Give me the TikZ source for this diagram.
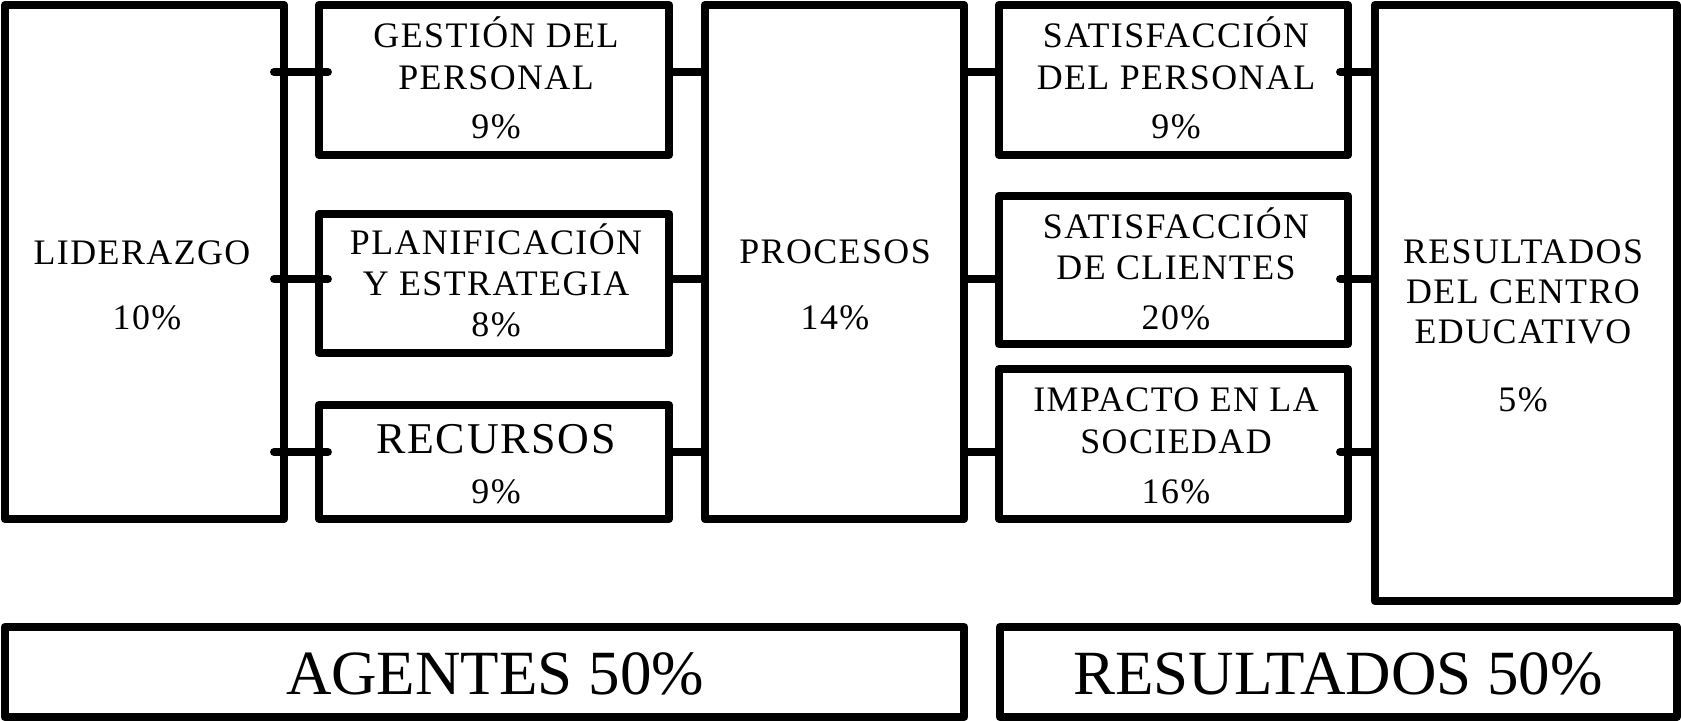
\documentclass[tikz,border=0pt]{standalone}
\usepackage{fontspec}
\setmainfont{Liberation Serif}
\newfontfamily\spacedserif{Liberation Serif}[LetterSpace=4]
\begin{document}
\begin{tikzpicture}[x=0.01cm,y=-0.01cm,
  box/.style={draw=black, line width=2.3pt, line join=round, inner sep=0pt, outer sep=0pt},
  stub/.style={draw=black, line width=2.3pt},
  txt/.style={anchor=base, inner sep=0pt, font=\spacedserif\fontsize{10.2}{12}\selectfont},
  bigtxt/.style={anchor=base, inner sep=0pt, font=\spacedserif\fontsize{12.5}{15}\selectfont},
  hugetxt/.style={anchor=base, inner sep=0pt, font=\fontsize{17.9}{21}\selectfont}]
\useasboundingbox (0,0) rectangle (1681,720);
\fill[white] (0,0) rectangle (1681,720);

% boxes
\node[box, minimum width=2.79cm, minimum height=5.14cm] (lid) at (144.5,262) {};
\node[box, minimum width=3.50cm, minimum height=1.50cm] (gest) at (494,80) {};
\node[box, minimum width=3.50cm, minimum height=1.39cm] (plan) at (494,283.5) {};
\node[box, minimum width=3.50cm, minimum height=1.14cm] (rec) at (494,462) {};
\node[box, minimum width=2.59cm, minimum height=5.14cm] (proc) at (834.5,262) {};
\node[box, minimum width=3.49cm, minimum height=1.50cm] (sp) at (1173.5,80) {};
\node[box, minimum width=3.49cm, minimum height=1.48cm] (sc) at (1173.5,270) {};
\node[box, minimum width=3.49cm, minimum height=1.50cm] (imp) at (1173.5,444) {};
\node[box, minimum width=3.02cm, minimum height=5.96cm] (res) at (1526,303) {};
\node[box, minimum width=9.59cm, minimum height=0.90cm] (ag) at (484.5,672) {};
\node[box, minimum width=6.77cm, minimum height=0.90cm] (rb) at (1338.5,672) {};

% connector rows
\coordinate (ya) at (0,72);
\coordinate (yb) at (0,279);
\coordinate (yc) at (0,452);

\draw[stub, line cap=round, shorten <=-0.1cm, shorten >=-0.09cm] (lid.east |- ya) -- (gest.west |- ya);
\draw[stub, line cap=round, shorten <=-0.1cm, shorten >=-0.09cm] (lid.east |- yb) -- (plan.west |- yb);
\draw[stub, line cap=round, shorten <=-0.1cm, shorten >=-0.09cm] (lid.east |- yc) -- (rec.west |- yc);

\draw[stub] (gest.east |- ya) -- (proc.west |- ya);
\draw[stub] (plan.east |- yb) -- (proc.west |- yb);
\draw[stub] (rec.east |- yc) -- (proc.west |- yc);

\draw[stub] (proc.east |- ya) -- (sp.west |- ya);
\draw[stub] (proc.east |- yb) -- (sc.west |- yb);
\draw[stub] (proc.east |- yc) -- (imp.west |- yc);

\draw[stub, line cap=round, shorten <=-0.08cm] (sp.east |- ya) -- (res.west |- ya);
\draw[stub, line cap=round, shorten <=-0.08cm] (sc.east |- yb) -- (res.west |- yb);
\draw[stub, line cap=round, shorten <=-0.08cm] (imp.east |- yc) -- (res.west |- yc);

% texts
\node[txt] (t1) at (142,264) {LIDERAZGO};
\node[txt] (t2) at (147,329) {10\%};

\node[txt] (t3) at (496,47) {GESTIÓN DEL};
\node[txt] (t4) at (496,89) {PERSONAL};
\node[txt] (t5) at (496,138) {9\%};

\node[txt] (t6) at (496,254) {PLANIFICACIÓN};
\node[txt] (t7) at (496,295) {Y ESTRATEGIA};
\node[txt] (t8) at (496,336) {8\%};

\node[bigtxt] (t9) at (496,453) {RECURSOS};
\node[txt] (t10) at (496,503) {9\%};

\node[txt] (t11) at (835,263) {PROCESOS};
\node[txt] (t12) at (835,329) {14\%};

\node[txt] (t13) at (1176,47) {SATISFACCIÓN};
\node[txt] (t14) at (1176,89) {DEL PERSONAL};
\node[txt] (t15) at (1176,138) {9\%};

\node[txt] (t16) at (1176,238) {SATISFACCIÓN};
\node[txt] (t17) at (1176,279) {DE CLIENTES};
\node[txt] (t18) at (1176,329) {20\%};

\node[txt] (t19) at (1176,411) {IMPACTO EN LA};
\node[txt] (t20) at (1176,453) {SOCIEDAD};
\node[txt] (t21) at (1176,503) {16\%};

\node[txt] (t22) at (1523,263) {RESULTADOS};
\node[txt] (t23) at (1523,303) {DEL CENTRO};
\node[txt] (t24) at (1523,343) {EDUCATIVO};
\node[txt] (t25) at (1523,411) {5\%};

\node[hugetxt] (t26) at (495,694) {AGENTES 50\%};
\node[hugetxt] (t27) at (1338,694) {RESULTADOS 50\%};
\end{tikzpicture}
\end{document}
